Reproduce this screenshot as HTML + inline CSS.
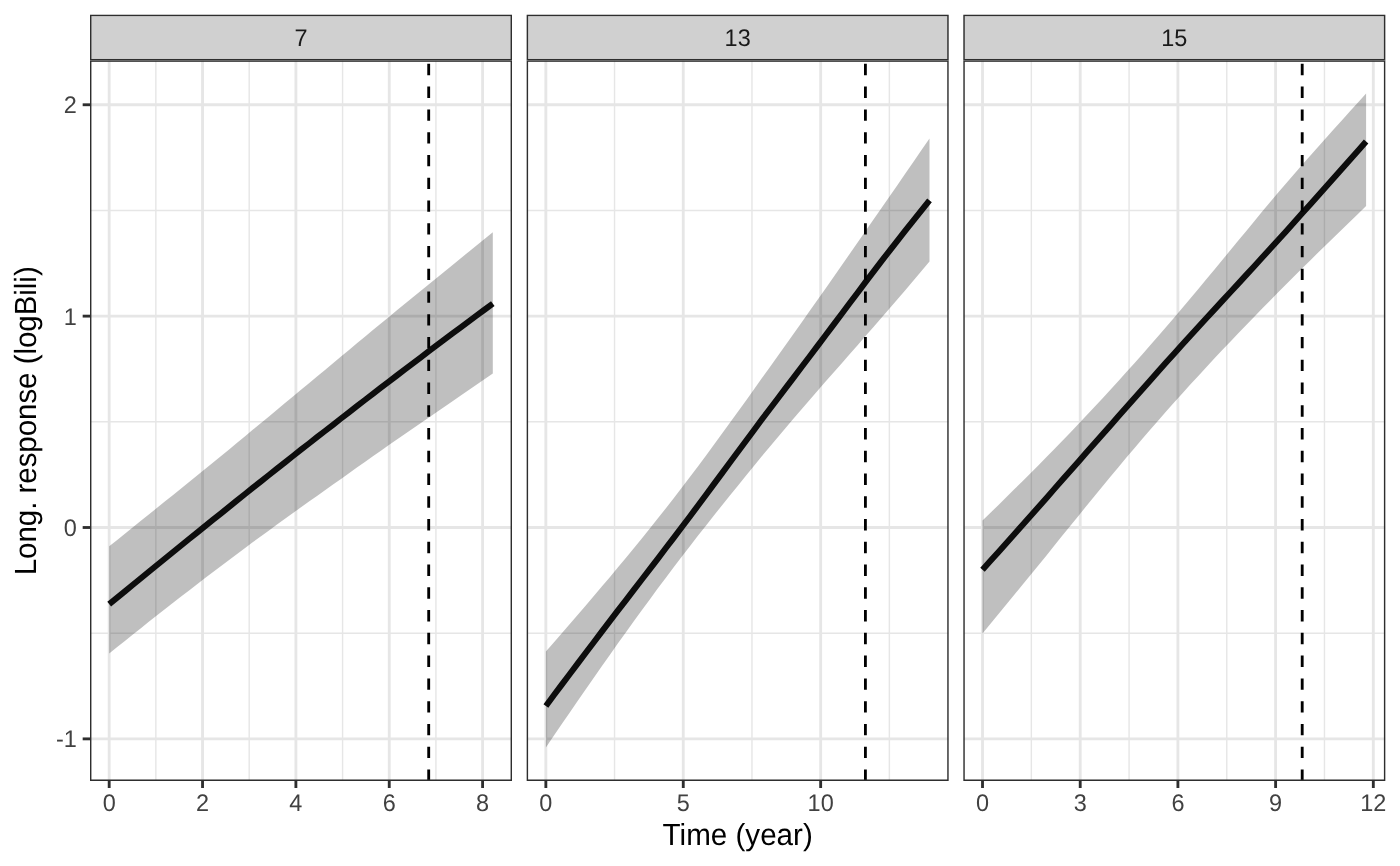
<!DOCTYPE html>
<html><head><meta charset="utf-8"><title>plot</title>
<style>html,body{margin:0;padding:0;background:#fff}svg{display:block}text{font-family:"Liberation Sans",Arial,Helvetica,sans-serif;text-rendering:geometricPrecision}</style></head><body>
<svg width="1400" height="866" viewBox="0 0 1400 866">
<rect width="1400" height="866" fill="#ffffff"/>
<clipPath id="c0"><rect x="90.00" y="60.4" width="422.00" height="720.50"/></clipPath>
<clipPath id="s0"><rect x="90.00" y="14.67" width="422.00" height="45.73"/></clipPath>
<g clip-path="url(#c0)">
<line x1="90.00" x2="512.00" y1="210.44" y2="210.44" stroke="#e6e6e6" stroke-width="1.42"/>
<line x1="90.00" x2="512.00" y1="421.81" y2="421.81" stroke="#e6e6e6" stroke-width="1.42"/>
<line x1="90.00" x2="512.00" y1="633.18" y2="633.18" stroke="#e6e6e6" stroke-width="1.42"/>
<line y1="60.4" y2="780.9" x1="155.86" x2="155.86" stroke="#e6e6e6" stroke-width="1.42"/>
<line y1="60.4" y2="780.9" x1="249.21" x2="249.21" stroke="#e6e6e6" stroke-width="1.42"/>
<line y1="60.4" y2="780.9" x1="342.57" x2="342.57" stroke="#e6e6e6" stroke-width="1.42"/>
<line y1="60.4" y2="780.9" x1="435.92" x2="435.92" stroke="#e6e6e6" stroke-width="1.42"/>
<line x1="90.00" x2="512.00" y1="104.76" y2="104.76" stroke="#e6e6e6" stroke-width="2.85"/>
<line x1="90.00" x2="512.00" y1="316.13" y2="316.13" stroke="#e6e6e6" stroke-width="2.85"/>
<line x1="90.00" x2="512.00" y1="527.50" y2="527.50" stroke="#e6e6e6" stroke-width="2.85"/>
<line x1="90.00" x2="512.00" y1="738.87" y2="738.87" stroke="#e6e6e6" stroke-width="2.85"/>
<line y1="60.4" y2="780.9" x1="109.18" x2="109.18" stroke="#e6e6e6" stroke-width="2.85"/>
<line y1="60.4" y2="780.9" x1="202.54" x2="202.54" stroke="#e6e6e6" stroke-width="2.85"/>
<line y1="60.4" y2="780.9" x1="295.89" x2="295.89" stroke="#e6e6e6" stroke-width="2.85"/>
<line y1="60.4" y2="780.9" x1="389.24" x2="389.24" stroke="#e6e6e6" stroke-width="2.85"/>
<line y1="60.4" y2="780.9" x1="482.60" x2="482.60" stroke="#e6e6e6" stroke-width="2.85"/>
<polygon points="109.2,546.3 117.2,539.9 125.2,533.5 133.2,527.1 141.2,520.6 149.1,514.2 157.1,507.8 165.1,501.3 173.1,494.9 181.1,488.4 189.1,482.0 197.1,475.5 205.1,469.0 213.1,462.5 221.1,455.9 229.1,449.4 237.1,442.8 245.1,436.2 253.0,429.6 261.0,423.0 269.0,416.4 277.0,409.8 285.0,403.1 293.0,396.5 301.0,389.8 309.0,383.2 317.0,376.5 325.0,369.9 333.0,363.2 341.0,356.6 349.0,350.0 356.9,343.3 364.9,336.7 372.9,330.1 380.9,323.5 388.9,316.9 396.9,310.3 404.9,303.8 412.9,297.3 420.9,290.7 428.9,284.2 436.9,277.7 444.9,271.2 452.9,264.7 460.8,258.2 468.8,251.7 476.8,245.2 484.8,238.8 492.8,232.3 492.8,373.6 484.8,379.1 476.8,384.5 468.8,390.0 460.8,395.4 452.9,400.9 444.9,406.4 436.9,411.9 428.9,417.4 420.9,422.9 412.9,428.4 404.9,434.0 396.9,439.6 388.9,445.1 380.9,450.7 372.9,456.3 364.9,461.9 356.9,467.6 349.0,473.2 341.0,478.9 333.0,484.5 325.0,490.2 317.0,495.9 309.0,501.6 301.0,507.3 293.0,513.0 285.0,518.8 277.0,524.6 269.0,530.4 261.0,536.2 253.0,542.1 245.1,548.0 237.1,554.0 229.1,559.9 221.1,566.0 213.1,572.0 205.1,578.1 197.1,584.2 189.1,590.4 181.1,596.6 173.1,602.8 165.1,609.0 157.1,615.3 149.1,621.6 141.2,628.0 133.2,634.3 125.2,640.7 117.2,647.1 109.2,653.5" fill="#000000" fill-opacity="0.25"/>
<polyline points="109.2,604.1 117.2,597.6 125.2,591.1 133.2,584.5 141.2,578.0 149.1,571.5 157.1,565.0 165.1,558.5 173.1,552.0 181.1,545.5 189.1,539.0 197.1,532.6 205.1,526.1 213.1,519.7 221.1,513.3 229.1,506.8 237.1,500.4 245.1,494.0 253.0,487.7 261.0,481.3 269.0,475.0 277.0,468.6 285.0,462.3 293.0,456.0 301.0,449.7 309.0,443.5 317.0,437.2 325.0,431.0 333.0,424.8 341.0,418.5 349.0,412.4 356.9,406.2 364.9,400.0 372.9,393.9 380.9,387.7 388.9,381.6 396.9,375.5 404.9,369.4 412.9,363.3 420.9,357.3 428.9,351.2 436.9,345.2 444.9,339.2 452.9,333.2 460.8,327.3 468.8,321.3 476.8,315.4 484.8,309.5 492.8,303.6" fill="none" stroke="#0d0d0d" stroke-width="6.0" stroke-linejoin="round"/>
<line x1="428.7" x2="428.7" y1="63.86" y2="780.9" stroke="#000000" stroke-width="2.85" stroke-dasharray="11.38 11.38"/>
<rect x="90.00" y="60.4" width="422.00" height="720.50" fill="none" stroke="#2e2e2e" stroke-width="2.85"/>
</g>
<g clip-path="url(#s0)"><rect x="90.00" y="14.67" width="422.00" height="45.73" fill="#d0d0d0" stroke="#2e2e2e" stroke-width="2.85"/></g>
<text transform="translate(301.00,46.1) scale(1,1.025)" font-size="23.47" fill="#1a1a1a" text-anchor="middle">7</text>
<line x1="109.18" x2="109.18" y1="780.9" y2="788.00" stroke="#2e2e2e" stroke-width="2.85"/>
<text transform="translate(109.18,810.8) scale(1,1.025)" font-size="23.47" fill="#414141" text-anchor="middle">0</text>
<line x1="202.54" x2="202.54" y1="780.9" y2="788.00" stroke="#2e2e2e" stroke-width="2.85"/>
<text transform="translate(202.54,810.8) scale(1,1.025)" font-size="23.47" fill="#414141" text-anchor="middle">2</text>
<line x1="295.89" x2="295.89" y1="780.9" y2="788.00" stroke="#2e2e2e" stroke-width="2.85"/>
<text transform="translate(295.89,810.8) scale(1,1.025)" font-size="23.47" fill="#414141" text-anchor="middle">4</text>
<line x1="389.24" x2="389.24" y1="780.9" y2="788.00" stroke="#2e2e2e" stroke-width="2.85"/>
<text transform="translate(389.24,810.8) scale(1,1.025)" font-size="23.47" fill="#414141" text-anchor="middle">6</text>
<line x1="482.60" x2="482.60" y1="780.9" y2="788.00" stroke="#2e2e2e" stroke-width="2.85"/>
<text transform="translate(482.60,810.8) scale(1,1.025)" font-size="23.47" fill="#414141" text-anchor="middle">8</text>
<clipPath id="c1"><rect x="526.67" y="60.4" width="422.00" height="720.50"/></clipPath>
<clipPath id="s1"><rect x="526.67" y="14.67" width="422.00" height="45.73"/></clipPath>
<g clip-path="url(#c1)">
<line x1="526.67" x2="948.67" y1="210.44" y2="210.44" stroke="#e6e6e6" stroke-width="1.42"/>
<line x1="526.67" x2="948.67" y1="421.81" y2="421.81" stroke="#e6e6e6" stroke-width="1.42"/>
<line x1="526.67" x2="948.67" y1="633.18" y2="633.18" stroke="#e6e6e6" stroke-width="1.42"/>
<line y1="60.4" y2="780.9" x1="614.55" x2="614.55" stroke="#e6e6e6" stroke-width="1.42"/>
<line y1="60.4" y2="780.9" x1="751.96" x2="751.96" stroke="#e6e6e6" stroke-width="1.42"/>
<line y1="60.4" y2="780.9" x1="889.37" x2="889.37" stroke="#e6e6e6" stroke-width="1.42"/>
<line x1="526.67" x2="948.67" y1="104.76" y2="104.76" stroke="#e6e6e6" stroke-width="2.85"/>
<line x1="526.67" x2="948.67" y1="316.13" y2="316.13" stroke="#e6e6e6" stroke-width="2.85"/>
<line x1="526.67" x2="948.67" y1="527.50" y2="527.50" stroke="#e6e6e6" stroke-width="2.85"/>
<line x1="526.67" x2="948.67" y1="738.87" y2="738.87" stroke="#e6e6e6" stroke-width="2.85"/>
<line y1="60.4" y2="780.9" x1="545.85" x2="545.85" stroke="#e6e6e6" stroke-width="2.85"/>
<line y1="60.4" y2="780.9" x1="683.26" x2="683.26" stroke="#e6e6e6" stroke-width="2.85"/>
<line y1="60.4" y2="780.9" x1="820.66" x2="820.66" stroke="#e6e6e6" stroke-width="2.85"/>
<polygon points="545.9,651.6 553.8,642.4 561.8,633.2 569.8,623.9 577.8,614.7 585.8,605.4 593.8,596.0 601.8,586.6 609.8,577.2 617.8,567.6 625.8,558.0 633.8,548.3 641.8,538.5 649.8,528.6 657.7,518.6 665.7,508.5 673.7,498.2 681.7,487.8 689.7,477.3 697.7,466.7 705.7,455.9 713.7,445.0 721.7,434.1 729.7,423.1 737.7,412.0 745.7,400.9 753.7,389.7 761.6,378.6 769.6,367.4 777.6,356.2 785.6,345.0 793.6,333.7 801.6,322.4 809.6,311.1 817.6,299.8 825.6,288.4 833.6,277.0 841.6,265.6 849.6,254.1 857.6,242.6 865.5,231.1 873.5,219.6 881.5,208.0 889.5,196.5 897.5,184.9 905.5,173.3 913.5,161.7 921.5,150.1 929.5,138.5 929.5,261.5 921.5,271.0 913.5,280.5 905.5,289.9 897.5,299.3 889.5,308.6 881.5,317.8 873.5,327.0 865.5,336.1 857.6,345.2 849.6,354.3 841.6,363.4 833.6,372.4 825.6,381.6 817.6,390.7 809.6,399.9 801.6,409.2 793.6,418.6 785.6,428.0 777.6,437.5 769.6,447.0 761.6,456.6 753.7,466.3 745.7,476.1 737.7,485.9 729.7,495.8 721.7,505.7 713.7,515.8 705.7,525.9 697.7,536.1 689.7,546.4 681.7,556.8 673.7,567.3 665.7,577.9 657.7,588.6 649.8,599.4 641.8,610.3 633.8,621.3 625.8,632.4 617.8,643.6 609.8,654.9 601.8,666.3 593.8,677.7 585.8,689.2 577.8,700.8 569.8,712.4 561.8,724.1 553.8,735.8 545.9,747.5" fill="#000000" fill-opacity="0.25"/>
<polyline points="545.9,706.0 553.8,695.3 561.8,684.6 569.8,674.0 577.8,663.4 585.8,652.7 593.8,642.2 601.8,631.6 609.8,621.1 617.8,610.7 625.8,600.3 633.8,589.9 641.8,579.5 649.8,569.1 657.7,558.8 665.7,548.3 673.7,537.9 681.7,527.3 689.7,516.7 697.7,506.0 705.7,495.2 713.7,484.4 721.7,473.6 729.7,462.8 737.7,452.0 745.7,441.2 753.7,430.5 761.6,419.8 769.6,409.2 777.6,398.7 785.6,388.1 793.6,377.6 801.6,367.0 809.6,356.5 817.6,345.9 825.6,335.3 833.6,324.6 841.6,314.0 849.6,303.3 857.6,292.7 865.5,282.1 873.5,271.6 881.5,261.1 889.5,250.8 897.5,240.6 905.5,230.4 913.5,220.4 921.5,210.3 929.5,200.4" fill="none" stroke="#0d0d0d" stroke-width="6.0" stroke-linejoin="round"/>
<line x1="865.4" x2="865.4" y1="63.86" y2="780.9" stroke="#000000" stroke-width="2.85" stroke-dasharray="11.38 11.38"/>
<rect x="526.67" y="60.4" width="422.00" height="720.50" fill="none" stroke="#2e2e2e" stroke-width="2.85"/>
</g>
<g clip-path="url(#s1)"><rect x="526.67" y="14.67" width="422.00" height="45.73" fill="#d0d0d0" stroke="#2e2e2e" stroke-width="2.85"/></g>
<text transform="translate(737.67,46.1) scale(1,1.025)" font-size="23.47" fill="#1a1a1a" text-anchor="middle">13</text>
<line x1="545.85" x2="545.85" y1="780.9" y2="788.00" stroke="#2e2e2e" stroke-width="2.85"/>
<text transform="translate(545.85,810.8) scale(1,1.025)" font-size="23.47" fill="#414141" text-anchor="middle">0</text>
<line x1="683.26" x2="683.26" y1="780.9" y2="788.00" stroke="#2e2e2e" stroke-width="2.85"/>
<text transform="translate(683.26,810.8) scale(1,1.025)" font-size="23.47" fill="#414141" text-anchor="middle">5</text>
<line x1="820.66" x2="820.66" y1="780.9" y2="788.00" stroke="#2e2e2e" stroke-width="2.85"/>
<text transform="translate(820.66,810.8) scale(1,1.025)" font-size="23.47" fill="#414141" text-anchor="middle">10</text>
<clipPath id="c2"><rect x="963.33" y="60.4" width="422.00" height="720.50"/></clipPath>
<clipPath id="s2"><rect x="963.33" y="14.67" width="422.00" height="45.73"/></clipPath>
<g clip-path="url(#c2)">
<line x1="963.33" x2="1385.33" y1="210.44" y2="210.44" stroke="#e6e6e6" stroke-width="1.42"/>
<line x1="963.33" x2="1385.33" y1="421.81" y2="421.81" stroke="#e6e6e6" stroke-width="1.42"/>
<line x1="963.33" x2="1385.33" y1="633.18" y2="633.18" stroke="#e6e6e6" stroke-width="1.42"/>
<line y1="60.4" y2="780.9" x1="1031.36" x2="1031.36" stroke="#e6e6e6" stroke-width="1.42"/>
<line y1="60.4" y2="780.9" x1="1129.06" x2="1129.06" stroke="#e6e6e6" stroke-width="1.42"/>
<line y1="60.4" y2="780.9" x1="1226.76" x2="1226.76" stroke="#e6e6e6" stroke-width="1.42"/>
<line y1="60.4" y2="780.9" x1="1324.46" x2="1324.46" stroke="#e6e6e6" stroke-width="1.42"/>
<line x1="963.33" x2="1385.33" y1="104.76" y2="104.76" stroke="#e6e6e6" stroke-width="2.85"/>
<line x1="963.33" x2="1385.33" y1="316.13" y2="316.13" stroke="#e6e6e6" stroke-width="2.85"/>
<line x1="963.33" x2="1385.33" y1="527.50" y2="527.50" stroke="#e6e6e6" stroke-width="2.85"/>
<line x1="963.33" x2="1385.33" y1="738.87" y2="738.87" stroke="#e6e6e6" stroke-width="2.85"/>
<line y1="60.4" y2="780.9" x1="982.51" x2="982.51" stroke="#e6e6e6" stroke-width="2.85"/>
<line y1="60.4" y2="780.9" x1="1080.21" x2="1080.21" stroke="#e6e6e6" stroke-width="2.85"/>
<line y1="60.4" y2="780.9" x1="1177.91" x2="1177.91" stroke="#e6e6e6" stroke-width="2.85"/>
<line y1="60.4" y2="780.9" x1="1275.61" x2="1275.61" stroke="#e6e6e6" stroke-width="2.85"/>
<line y1="60.4" y2="780.9" x1="1373.31" x2="1373.31" stroke="#e6e6e6" stroke-width="2.85"/>
<polygon points="982.5,520.5 990.5,512.7 998.5,504.9 1006.5,497.0 1014.5,489.1 1022.5,481.2 1030.5,473.2 1038.5,465.2 1046.5,457.1 1054.4,449.0 1062.4,440.7 1070.4,432.4 1078.4,424.1 1086.4,415.6 1094.4,407.1 1102.4,398.5 1110.4,389.7 1118.4,381.0 1126.4,372.1 1134.4,363.2 1142.4,354.2 1150.4,345.1 1158.3,336.0 1166.3,326.7 1174.3,317.4 1182.3,308.0 1190.3,298.5 1198.3,288.9 1206.3,279.3 1214.3,269.7 1222.3,260.0 1230.3,250.3 1238.3,240.6 1246.3,230.9 1254.3,221.2 1262.2,211.6 1270.2,202.1 1278.2,192.6 1286.2,183.3 1294.2,174.0 1302.2,164.8 1310.2,155.7 1318.2,146.7 1326.2,137.7 1334.2,128.8 1342.2,120.0 1350.2,111.1 1358.2,102.3 1366.1,93.6 1366.1,206.0 1358.2,213.7 1350.2,221.4 1342.2,229.2 1334.2,236.9 1326.2,244.7 1318.2,252.5 1310.2,260.4 1302.2,268.3 1294.2,276.3 1286.2,284.3 1278.2,292.3 1270.2,300.4 1262.2,308.6 1254.3,316.8 1246.3,325.0 1238.3,333.3 1230.3,341.7 1222.3,350.1 1214.3,358.6 1206.3,367.2 1198.3,375.9 1190.3,384.6 1182.3,393.4 1174.3,402.3 1166.3,411.3 1158.3,420.4 1150.4,429.5 1142.4,438.8 1134.4,448.2 1126.4,457.6 1118.4,467.2 1110.4,476.8 1102.4,486.5 1094.4,496.2 1086.4,506.0 1078.4,515.9 1070.4,525.7 1062.4,535.6 1054.4,545.5 1046.5,555.4 1038.5,565.2 1030.5,575.0 1022.5,584.8 1014.5,594.6 1006.5,604.3 998.5,614.1 990.5,623.8 982.5,633.5" fill="#000000" fill-opacity="0.25"/>
<polyline points="982.5,569.7 990.5,560.8 998.5,551.9 1006.5,542.9 1014.5,534.0 1022.5,525.0 1030.5,516.0 1038.5,507.0 1046.5,498.0 1054.4,488.9 1062.4,479.8 1070.4,470.8 1078.4,461.7 1086.4,452.6 1094.4,443.5 1102.4,434.5 1110.4,425.4 1118.4,416.3 1126.4,407.3 1134.4,398.2 1142.4,389.2 1150.4,380.2 1158.3,371.3 1166.3,362.3 1174.3,353.4 1182.3,344.6 1190.3,335.8 1198.3,327.0 1206.3,318.3 1214.3,309.6 1222.3,300.9 1230.3,292.2 1238.3,283.6 1246.3,274.9 1254.3,266.2 1262.2,257.5 1270.2,248.8 1278.2,240.0 1286.2,231.2 1294.2,222.3 1302.2,213.3 1310.2,204.4 1318.2,195.4 1326.2,186.5 1334.2,177.5 1342.2,168.5 1350.2,159.5 1358.2,150.6 1366.1,141.6" fill="none" stroke="#0d0d0d" stroke-width="6.0" stroke-linejoin="round"/>
<line x1="1302.2" x2="1302.2" y1="63.86" y2="780.9" stroke="#000000" stroke-width="2.85" stroke-dasharray="11.38 11.38"/>
<rect x="963.33" y="60.4" width="422.00" height="720.50" fill="none" stroke="#2e2e2e" stroke-width="2.85"/>
</g>
<g clip-path="url(#s2)"><rect x="963.33" y="14.67" width="422.00" height="45.73" fill="#d0d0d0" stroke="#2e2e2e" stroke-width="2.85"/></g>
<text transform="translate(1174.33,46.1) scale(1,1.025)" font-size="23.47" fill="#1a1a1a" text-anchor="middle">15</text>
<line x1="982.51" x2="982.51" y1="780.9" y2="788.00" stroke="#2e2e2e" stroke-width="2.85"/>
<text transform="translate(982.51,810.8) scale(1,1.025)" font-size="23.47" fill="#414141" text-anchor="middle">0</text>
<line x1="1080.21" x2="1080.21" y1="780.9" y2="788.00" stroke="#2e2e2e" stroke-width="2.85"/>
<text transform="translate(1080.21,810.8) scale(1,1.025)" font-size="23.47" fill="#414141" text-anchor="middle">3</text>
<line x1="1177.91" x2="1177.91" y1="780.9" y2="788.00" stroke="#2e2e2e" stroke-width="2.85"/>
<text transform="translate(1177.91,810.8) scale(1,1.025)" font-size="23.47" fill="#414141" text-anchor="middle">6</text>
<line x1="1275.61" x2="1275.61" y1="780.9" y2="788.00" stroke="#2e2e2e" stroke-width="2.85"/>
<text transform="translate(1275.61,810.8) scale(1,1.025)" font-size="23.47" fill="#414141" text-anchor="middle">9</text>
<line x1="1373.31" x2="1373.31" y1="780.9" y2="788.00" stroke="#2e2e2e" stroke-width="2.85"/>
<text transform="translate(1373.31,810.8) scale(1,1.025)" font-size="23.47" fill="#414141" text-anchor="middle">12</text>
<line x1="82.67" x2="90" y1="104.76" y2="104.76" stroke="#2e2e2e" stroke-width="2.85"/>
<text transform="translate(76.8,113.16) scale(1,1.025)" font-size="23.47" fill="#414141" text-anchor="end">2</text>
<line x1="82.67" x2="90" y1="316.13" y2="316.13" stroke="#2e2e2e" stroke-width="2.85"/>
<text transform="translate(76.8,324.53) scale(1,1.025)" font-size="23.47" fill="#414141" text-anchor="end">1</text>
<line x1="82.67" x2="90" y1="527.50" y2="527.50" stroke="#2e2e2e" stroke-width="2.85"/>
<text transform="translate(76.8,535.90) scale(1,1.025)" font-size="23.47" fill="#414141" text-anchor="end">0</text>
<line x1="82.67" x2="90" y1="738.87" y2="738.87" stroke="#2e2e2e" stroke-width="2.85"/>
<text transform="translate(76.8,747.27) scale(1,1.025)" font-size="23.47" fill="#414141" text-anchor="end">-1</text>
<text transform="translate(737.67,844.9) scale(1,1.03)" font-size="29.6" fill="#000" text-anchor="middle">Time (year)</text>
<text transform="translate(35.7,420.8) rotate(-90) scale(1,1.04)" font-size="29.42" fill="#000" text-anchor="middle">Long. response (logBili)</text>
</svg></body></html>
